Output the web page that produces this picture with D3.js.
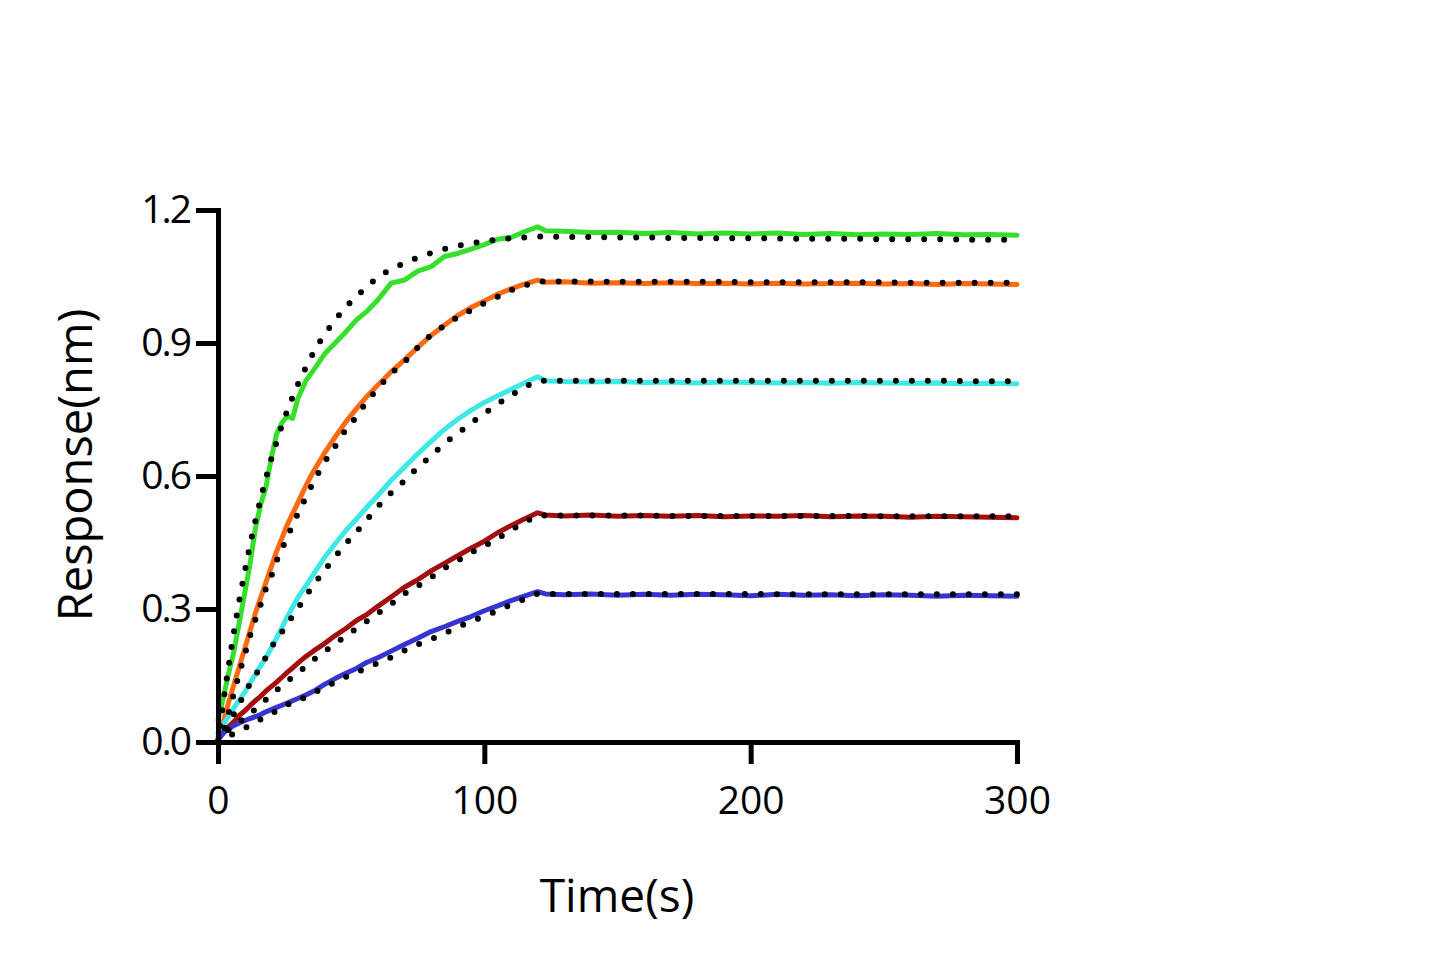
<!DOCTYPE html>
<html>
<head>
<meta charset="utf-8">
<script src="https://cdn.jsdelivr.net/npm/d3@7"></script>
<style>
  html, body { margin: 0; padding: 0; background: #fff; }
  svg { display: block; }
</style>
</head>
<body>
<svg id="chart" width="1447" height="975"></svg>
<script>
// ---- data ----
const timeS = [0,2,4,6,8,10,12,14,16,18,20,22,24,26,28,30,33,36,40,44,48,52,56,60,65,70,75,80,85,90,95,100,105,110,115,120,
               123,130,140,150,160,170,180,190,200,210,220,230,240,250,260,270,280,290,300];

const greenObs = [0.05,0.10,0.155,0.205,0.27,0.335,0.40,0.48,0.535,0.575,0.64,0.695,0.72,0.735,0.73,0.775,0.815,0.84,0.875,0.90,0.925,0.952,0.972,0.997,1.035,1.042,1.062,1.072,1.095,1.102,1.112,1.122,1.134,1.138,1.151,1.162,
                  1.153,1.152,1.149,1.150,1.147,1.149,1.146,1.148,1.146,1.148,1.145,1.147,1.144,1.146,1.145,1.147,1.144,1.145,1.143];
const greenFit = [0,0.090,0.172,0.249,0.319,0.383,0.443,0.498,0.548,0.595,0.638,0.677,0.714,0.747,0.778,0.807,0.845,0.880,0.919,0.952,0.981,1.005,1.027,1.048,1.066,1.080,1.093,1.103,1.112,1.119,1.125,1.129,1.133,1.136,1.138,1.140,
                  1.140,1.139,1.139,1.138,1.138,1.137,1.137,1.136,1.136,1.136,1.135,1.135,1.135,1.134,1.134,1.134,1.133,1.133,1.133];

const orangeObs = [0.01,0.045,0.09,0.13,0.17,0.21,0.25,0.29,0.325,0.36,0.395,0.43,0.46,0.49,0.515,0.54,0.578,0.612,0.652,0.688,0.722,0.752,0.78,0.805,0.835,0.862,0.89,0.917,0.94,0.962,0.98,0.995,1.01,1.022,1.033,1.042,
                   1.037,1.038,1.035,1.036,1.034,1.036,1.034,1.035,1.033,1.035,1.033,1.034,1.035,1.033,1.034,1.032,1.034,1.033,1.032];
const orangeFit = [0,0.025,0.065,0.11,0.155,0.196,0.239,0.275,0.31,0.346,0.374,0.408,0.435,0.462,0.489,0.515,0.552,0.588,0.631,0.667,0.704,0.734,0.769,0.797,0.831,0.857,0.89,0.918,0.939,0.958,0.974,0.99,1.004,1.019,1.029,1.039,
                   1.039,1.039,1.039,1.038,1.038,1.038,1.038,1.038,1.037,1.037,1.037,1.037,1.037,1.037,1.036,1.036,1.036,1.036,1.036];

const cyanObs = [0.02,0.04,0.058,0.077,0.095,0.112,0.132,0.152,0.172,0.19,0.212,0.235,0.258,0.282,0.304,0.326,0.352,0.38,0.416,0.447,0.477,0.503,0.53,0.556,0.59,0.62,0.65,0.678,0.705,0.728,0.748,0.766,0.781,0.795,0.81,0.824,
                 0.815,0.813,0.812,0.813,0.811,0.812,0.810,0.812,0.811,0.810,0.811,0.809,0.811,0.810,0.809,0.810,0.808,0.809,0.808];
const cyanFit = [0,0.016,0.039,0.063,0.086,0.109,0.131,0.150,0.171,0.191,0.213,0.231,0.248,0.266,0.284,0.301,0.329,0.355,0.387,0.418,0.447,0.474,0.502,0.531,0.562,0.589,0.619,0.645,0.673,0.696,0.719,0.741,0.762,0.782,0.799,0.814,
                 0.815,0.815,0.815,0.815,0.815,0.815,0.815,0.815,0.815,0.815,0.815,0.815,0.815,0.815,0.815,0.815,0.814,0.814,0.814];

const redObs = [0.005,0.022,0.035,0.046,0.06,0.07,0.082,0.093,0.103,0.115,0.125,0.135,0.146,0.157,0.167,0.178,0.193,0.206,0.222,0.24,0.256,0.274,0.288,0.306,0.327,0.349,0.366,0.386,0.403,0.42,0.437,0.453,0.472,0.488,0.503,0.517,
                0.512,0.510,0.512,0.509,0.511,0.509,0.511,0.508,0.510,0.509,0.511,0.508,0.510,0.509,0.507,0.509,0.508,0.507,0.506];
const redFit = [0,0.015,0.027,0.036,0.045,0.055,0.064,0.074,0.085,0.096,0.107,0.117,0.127,0.137,0.146,0.156,0.171,0.186,0.204,0.222,0.239,0.256,0.273,0.290,0.311,0.334,0.352,0.371,0.392,0.409,0.427,0.442,0.459,0.478,0.494,0.510,
                0.511,0.511,0.511,0.511,0.511,0.510,0.510,0.510,0.510,0.510,0.510,0.510,0.510,0.509,0.509,0.509,0.509,0.509,0.509];

const blueObs = [0.005,0.02,0.03,0.037,0.043,0.048,0.053,0.057,0.062,0.068,0.073,0.078,0.083,0.088,0.093,0.098,0.106,0.115,0.13,0.143,0.155,0.166,0.18,0.19,0.205,0.22,0.234,0.249,0.26,0.272,0.283,0.296,0.307,0.319,0.329,0.339,
                 0.334,0.332,0.334,0.331,0.333,0.331,0.333,0.332,0.330,0.333,0.331,0.332,0.330,0.332,0.331,0.329,0.331,0.330,0.329];
const blueFit = [0,0.006,0.013,0.019,0.025,0.031,0.037,0.044,0.051,0.058,0.064,0.070,0.077,0.084,0.089,0.093,0.102,0.111,0.123,0.135,0.147,0.157,0.167,0.178,0.191,0.206,0.22,0.232,0.245,0.259,0.272,0.284,0.296,0.31,0.322,0.334,
                 0.334,0.334,0.334,0.334,0.334,0.334,0.334,0.334,0.334,0.333,0.333,0.333,0.333,0.333,0.333,0.333,0.333,0.333,0.333];

const seriesNames = ["green","orange","cyan","darkred","blue"];
const seriesColors = ["#35df2c","#ff6a10","#3fe8e6","#a30e0e","#3535cf"];
const observed = [greenObs, orangeObs, cyanObs, redObs, blueObs];
const fitted = [greenFit, orangeFit, cyanFit, redFit, blueFit];

const xTicks = [0,100,200,300];
const yTicks = [0,0.3,0.6,0.9,1.2];
const xTitle = "Time(s)";
const yTitle = "Response(nm)";

// ---- layout ----
const FONT = "'Open Sans', 'Noto Sans', sans-serif";
const svg = d3.select("#chart");
svg.append("rect").attr("width",1447).attr("height",975).attr("fill","#fff");

const x = d3.scaleLinear().domain([0,300]).range([218,1017]);
const y = d3.scaleLinear().domain([0,1.2]).range([742,210]);

const line = d3.line()
  .x((d,i) => x(timeS[i]))
  .y(d => y(d));
const fitLine = d3.line()
  .x((d,i) => x(timeS[i]))
  .y(d => y(d))
  .curve(d3.curveMonotoneX);

// observed traces
const g = svg.append("g");
observed.forEach((arr, k) => {
  g.append("path")
    .datum(arr)
    .attr("d", line)
    .attr("fill","none")
    .attr("stroke", seriesColors[k])
    .attr("stroke-width", 5)
    .attr("stroke-linejoin","round")
    .attr("stroke-linecap","round");
});
// fitted dotted curves (on top)
fitted.forEach((arr, k) => {
  g.append("path")
    .datum(arr)
    .attr("d", fitLine)
    .attr("fill","none")
    .attr("stroke", "#000")
    .attr("stroke-width", 6)
    .attr("stroke-dasharray","0 16")
    .attr("stroke-linecap","round");
});

// axes
const xAxis = svg.append("g")
  .attr("transform", `translate(0,${y(0)})`)
  .call(d3.axisBottom(x).tickValues(xTicks).tickSize(22).tickSizeOuter(0).tickPadding(22).tickFormat(d3.format("d")));
const yAxis = svg.append("g")
  .attr("transform", `translate(${x(0)},0)`)
  .call(d3.axisLeft(y).tickValues(yTicks).tickSize(22).tickSizeOuter(0).tickPadding(6).tickFormat(d3.format(".1f")));

[xAxis, yAxis].forEach(ax => {
  ax.select(".domain").attr("stroke","#000").attr("stroke-width",5).attr("stroke-linecap","square");
  ax.selectAll(".tick line").attr("stroke","#000").attr("stroke-width",5);
  ax.selectAll(".tick text")
    .attr("fill","#000")
    .style("font-family", FONT)
    .style("font-size","39px");
});
yAxis.selectAll(".tick text").style("letter-spacing","-2px");

svg.append("text")
  .attr("x", 617).attr("y", 912)
  .attr("text-anchor","middle")
  .style("font-family", FONT).style("font-size","46px").attr("fill","#000")
  .text(xTitle);

svg.append("text")
  .attr("transform","translate(92,465) rotate(-90)")
  .attr("text-anchor","middle")
  .style("font-family", FONT).style("font-size","47px").attr("fill","#000")
  .text(yTitle);
</script>
</body>
</html>
